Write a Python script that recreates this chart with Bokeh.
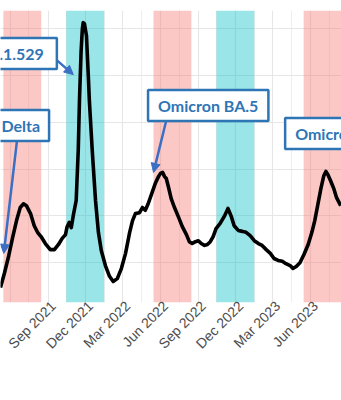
import pandas as pd
from math import pi
from bokeh.plotting import figure
from bokeh.models import (Range1d, FixedTicker, DatetimeTickFormatter, DatetimeAxis,
                          BoxAnnotation, Label, Arrow, NormalHead)
from bokeh.embed import file_html
from bokeh.resources import INLINE

# ---- data ----
dates = ["2021-05-08", "2021-05-18", "2021-05-28", "2021-06-06", "2021-06-16", "2021-06-25",
         "2021-07-03", "2021-07-10", "2021-07-20", "2021-07-29", "2021-08-06", "2021-08-16",
         "2021-08-25", "2021-09-06", "2021-09-16", "2021-09-26", "2021-10-05", "2021-10-13",
         "2021-10-17", "2021-10-22", "2021-10-27", "2021-11-01", "2021-11-08", "2021-11-13",
         "2021-11-16", "2021-11-20", "2021-11-23", "2021-11-25", "2021-11-28", "2021-12-03",
         "2021-12-08", "2021-12-10", "2021-12-17", "2021-12-25", "2022-01-01", "2022-01-08",
         "2022-01-18", "2022-01-28", "2022-02-06", "2022-02-16", "2022-02-26", "2022-03-08",
         "2022-03-18", "2022-03-25", "2022-04-01", "2022-04-11", "2022-04-18", "2022-04-25",
         "2022-05-02", "2022-05-10", "2022-05-20", "2022-05-27", "2022-06-01", "2022-06-06",
         "2022-06-11", "2022-06-15", "2022-06-20", "2022-06-27", "2022-07-05", "2022-07-15",
         "2022-07-24", "2022-08-03", "2022-08-10", "2022-08-17", "2022-08-25", "2022-09-01",
         "2022-09-08", "2022-09-16", "2022-09-23", "2022-09-30", "2022-10-07", "2022-10-14",
         "2022-10-24", "2022-11-03", "2022-11-12", "2022-11-20", "2022-11-27", "2022-12-07",
         "2022-12-17", "2022-12-26", "2023-01-05", "2023-01-15", "2023-01-25", "2023-02-03",
         "2023-02-13", "2023-02-23", "2023-03-04", "2023-03-14", "2023-03-24", "2023-04-02",
         "2023-04-12", "2023-04-19", "2023-04-27", "2023-05-06", "2023-05-16", "2023-05-26",
         "2023-06-04", "2023-06-11", "2023-06-18", "2023-06-26", "2023-07-03", "2023-07-08",
         "2023-07-13", "2023-07-20", "2023-07-27", "2023-08-03", "2023-08-13"]
values = [0.47, 0.79, 1.15, 1.52, 1.90, 2.18,
          2.26, 2.22, 2.05, 1.79, 1.65, 1.54,
          1.41, 1.28, 1.28, 1.39, 1.52, 1.60,
          1.77, 1.86, 1.75, 2.01, 2.33, 3.40,
          4.47, 5.53, 6.00, 6.13, 6.11, 5.85,
          4.89, 4.47, 3.40, 2.33, 1.65, 1.26,
          0.94, 0.71, 0.60, 0.66, 0.88, 1.20,
          1.65, 1.90, 2.05, 2.07, 2.18, 2.12,
          2.26, 2.46, 2.71, 2.84, 2.91, 2.93,
          2.84, 2.80, 2.63, 2.37, 2.18, 1.97,
          1.77, 1.60, 1.45, 1.41, 1.45, 1.47,
          1.41, 1.37, 1.39, 1.45, 1.56, 1.73,
          1.84, 1.99, 2.16, 1.99, 1.79, 1.69,
          1.67, 1.65, 1.58, 1.47, 1.41, 1.37,
          1.28, 1.20, 1.09, 1.05, 1.03, 0.98,
          0.94, 0.88, 0.92, 1.00, 1.18, 1.39,
          1.65, 1.90, 2.22, 2.59, 2.86, 2.95,
          2.88, 2.74, 2.59, 2.39, 2.22]

summer_start = ["2021-05-15", "2022-05-15", "2023-05-15"]
summer_end = ["2021-08-15", "2022-08-15", "2023-08-15"]
winter_start = ["2021-10-15", "2022-10-15"]
winter_end = ["2022-01-15", "2023-01-15"]

grid_dates = ["2021-06-01", "2021-09-01", "2021-12-01", "2022-03-01", "2022-06-01",
              "2022-09-01", "2022-12-01", "2023-03-01", "2023-06-01"]
label_dates = ["2021-09-01", "2021-12-01", "2022-03-01", "2022-06-01",
               "2022-09-01", "2022-12-01", "2023-03-01", "2023-06-01"]
minor_dates = ["2021-07-16", "2021-10-16", "2022-01-15", "2022-04-16", "2022-07-16",
               "2022-10-16", "2023-01-15", "2023-04-16", "2023-07-16"]
y_grid = [1, 2, 3, 4, 5, 6]

variants = ["Omicron B.1.1.529", "Delta", "Omicron BA.5", "Omicron EG.5"]


def ms(s):
    return pd.Timestamp(s).value / 1e6


DAY = 86400000.0
x = [pd.Timestamp(d) for d in dates]

X0, X1 = ms("2021-05-08"), ms("2023-08-15")
Y0, Y1 = 0.15, 6.39

p = figure(frame_width=341, frame_height=292, x_axis_type="datetime",
           x_range=Range1d(X0, X1), y_range=Range1d(Y0, Y1),
           output_backend="svg", toolbar_location=None,
           x_axis_location=None, y_axis_location=None,
           min_border_left=0, min_border_right=0, min_border_top=10, min_border_bottom=98)
p.outline_line_color = None
p.background_fill_color = "white"
p.border_fill_color = "white"

for s, e in zip(summer_start, summer_end):
    p.add_layout(BoxAnnotation(left=ms(s), right=ms(e), fill_color="#F8766D",
                               fill_alpha=0.4, line_color=None, level="underlay"))
for s, e in zip(winter_start, winter_end):
    p.add_layout(BoxAnnotation(left=ms(s), right=ms(e), fill_color="#00BFC4",
                               fill_alpha=0.4, line_color=None, level="underlay"))

p.xgrid.ticker = FixedTicker(ticks=[ms(d) for d in grid_dates],
                             minor_ticks=[ms(d) for d in minor_dates])
p.xgrid.grid_line_color = "#E6E6E6"
p.xgrid.grid_line_width = 1.1
p.xgrid.minor_grid_line_color = "#E6E6E6"
p.xgrid.minor_grid_line_width = 0.7
p.ygrid.ticker = FixedTicker(ticks=y_grid)
p.ygrid.grid_line_color = "#E6E6E6"
p.ygrid.grid_line_width = 1.0

# tick-label axis: labels hang from their tick like ggplot's hjust=1 labels
p.extra_x_ranges = {"labels": Range1d(X0 - 12 * DAY, X1 - 12 * DAY)}
ax = DatetimeAxis(x_range_name="labels")
fmt = "%b %Y"
ax.ticker = FixedTicker(ticks=[ms(d) for d in label_dates], minor_ticks=[])
ax.formatter = DatetimeTickFormatter(days=fmt, months=fmt, years=fmt)
ax.major_label_orientation = pi / 4
ax.major_label_text_font = "Liberation Sans"
ax.major_label_text_font_size = "14px"
ax.major_label_text_color = "#4D4D4D"
ax.axis_line_color = None
ax.major_tick_line_color = None
ax.minor_tick_line_color = None
ax.major_tick_out = 0
ax.major_tick_in = 0
ax.major_label_standoff = 1
p.add_layout(ax, "below")

p.line(x, values, line_color="black", line_width=3.6, line_join="round")

blue = "#2E75B6"
arrow_blue = "#3A6FC4"


def box(text, xd, yv, align, pad_r):
    lab = Label(x=ms(xd), y=yv, text=text, text_align=align, text_baseline="middle",
                text_font="Lato", text_font_style="bold", text_font_size="16px",
                text_color=blue, background_fill_color="white",
                border_line_color=blue, border_line_width=2.5,
                padding=dict(left=10, right=pad_r, top=6, bottom=6))
    p.add_layout(lab)


def arrow(xs, ys, xe, ye):
    p.add_layout(Arrow(end=NormalHead(size=9, fill_color=arrow_blue, line_color=arrow_blue),
                       x_start=ms(xs), y_start=ys, x_end=ms(xe), y_end=ye,
                       line_color=arrow_blue, line_width=2.5))


arrow("2021-09-23", 5.32, "2021-11-01", 5.02)
arrow("2021-06-18", 3.68, "2021-05-16", 1.20)
arrow("2022-06-15", 4.04, "2022-05-15", 2.93)

box(variants[0], "2021-09-22", 5.47, "right", 13)
box(variants[1], "2021-06-25", 3.93, "center", 9)
box(variants[2], "2022-09-25", 4.36, "center", 10)
box(variants[3], "2023-03-31", 3.76, "left", 10)

open("out.html", "w").write(file_html(p, INLINE))
